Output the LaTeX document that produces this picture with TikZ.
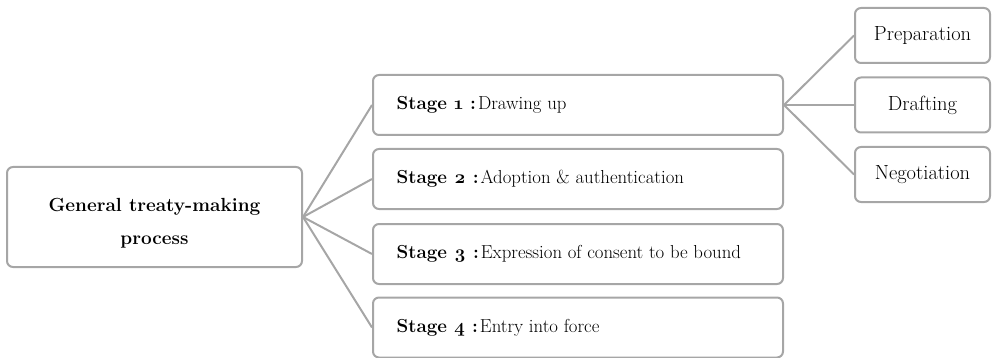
\documentclass[tikz,border=0pt]{standalone}
\usepackage{fontspec}
\setmainfont{Latin Modern Roman}[Numbers=OldStyle]
\begin{document}
\begin{tikzpicture}[x=1pt,y=-1pt,
  box/.style={draw=black!35, line width=2pt, rounded corners=6pt, fill=white, inner sep=0pt},
  link/.style={draw=black!35, line width=2pt},
  stagetxt/.style={font=\fontsize{18.8}{22}\selectfont, anchor=west},
  subbox/.style={box, minimum width=135pt, minimum height=55pt, font=\fontsize{20.5}{24}\selectfont}
]
\useasboundingbox (0,0) rectangle (992,358);
% main
\node[box, minimum width=295pt, minimum height=100pt] (main) at (154.5,217) {};
\node[align=center, font=\fontsize{19}{33}\selectfont\bfseries] (mainlabel) at ([yshift=-6pt]main.center) {General treaty-making\\process};
% stages
\node[box, minimum width=410pt, minimum height=60pt] (s1) at (578,105) {};
\node[box, minimum width=410pt, minimum height=60pt] (s2) at (578,179) {};
\node[box, minimum width=410pt, minimum height=60pt] (s3) at (578,254) {};
\node[box, minimum width=410pt, minimum height=60pt] (s4) at (578,327.5) {};
\node[stagetxt] (t1) at ([xshift=21pt]s1.west) {\textbf{Stage 1 :}\hspace{2pt}Drawing up};
\node[stagetxt] (t2) at ([xshift=21pt]s2.west) {\textbf{Stage 2 :}\hspace{2pt}Adoption \& authentication};
\node[stagetxt] (t3) at ([xshift=21pt]s3.west) {\textbf{Stage 3 :}\hspace{2pt}Expression of consent to be bound};
\node[stagetxt] (t4) at ([xshift=21pt]s4.west) {\textbf{Stage 4 :}\hspace{2pt}Entry into force};
% sub boxes
\node[subbox] (p) at (922.5,35.5) {Preparation};
\node[subbox] (d) at (922.5,105) {Drafting};
\node[subbox] (n) at (922.5,174.5) {Negotiation};
% links
\foreach \s in {s1,s2,s3,s4} \draw[link] (main.east) -- (\s.west);
\foreach \s in {p,d,n} \draw[link] (s1.east) -- (\s.west);
\end{tikzpicture}
\end{document}
